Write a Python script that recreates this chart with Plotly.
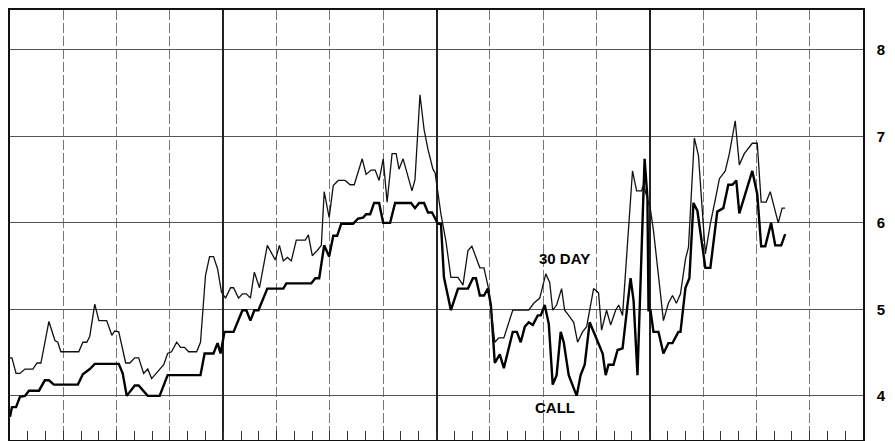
import plotly.graph_objects as go

# months from the start of the chart (4 years, 48 months)
day30_month = [0, 0.11, 0.34, 0.56, 0.84, 1.29, 1.52, 1.74, 2.19, 2.53, 2.69, 2.86, 3.87, 4.10, 4.32, 4.49,
               4.77, 5.00, 5.44, 5.73, 5.89, 6.12, 6.51, 6.74, 7.02, 7.24, 7.52, 7.75, 7.97, 8.65, 8.87, 9.09,
               9.38, 9.60, 9.82, 10.05, 10.50, 10.72, 11.00, 11.23, 11.45, 11.68, 11.90, 12.13, 12.41, 12.58,
               12.86, 13.08, 13.30, 13.53, 13.75, 14.04, 14.48, 14.65, 14.93, 15.16, 15.38, 15.61, 15.83, 16.11,
               16.62, 16.79, 17.01, 17.29, 17.52, 17.68, 17.96, 18.19, 18.47, 18.86, 19.14, 19.37, 19.82, 20.04,
               20.32, 20.55, 20.77, 21.00, 21.22, 21.50, 21.73, 21.89, 22.12, 22.62, 22.79, 23.07, 23.30, 23.52,
               23.80, 23.92, 24.25, 24.53, 24.81, 25.21, 25.49, 25.77, 25.99, 26.44, 26.67, 26.95, 27.28, 27.51,
               27.79, 28.29, 29.19, 29.47, 29.81, 30.15, 30.37, 30.54, 30.76, 31.04, 31.21, 31.44, 31.72, 31.94,
               32.22, 32.45, 32.84, 33.12, 33.29, 33.57, 33.80, 34.08, 34.25, 34.47, 35.03, 35.26, 35.54, 35.65,
               36.04, 36.21, 36.77, 37.05, 37.28, 37.50, 37.73, 38.01, 38.18, 38.51, 38.74, 39.13, 39.41, 39.69,
               39.92, 40.25, 40.48, 40.81, 41.04, 41.32, 41.77, 42.05, 42.27, 42.55, 42.78, 43.23, 43.45, 43.62]
day30_rate = [4.44, 4.44, 4.26, 4.26, 4.31, 4.31, 4.38, 4.38, 4.86, 4.64, 4.62, 4.51, 4.51, 4.62, 4.62, 4.69,
              5.06, 4.87, 4.87, 4.70, 4.75, 4.74, 4.38, 4.38, 4.44, 4.44, 4.26, 4.31, 4.20, 4.36, 4.49, 4.51,
              4.62, 4.56, 4.56, 4.51, 4.51, 4.62, 5.39, 5.61, 5.61, 5.47, 5.20, 5.13, 5.25, 5.25,
              5.13, 5.18, 5.18, 5.13, 5.43, 5.25, 5.74, 5.68, 5.57, 5.74, 5.56, 5.60, 5.56, 5.80,
              5.80, 5.86, 5.62, 5.68, 5.74, 6.36, 6.06, 6.43, 6.49, 6.49, 6.44, 6.44, 6.74, 6.56,
              6.61, 6.61, 6.49, 6.74, 6.24, 6.80, 6.80, 6.62, 6.74, 6.37, 6.50, 7.48, 7.08, 6.85,
              6.62, 6.58, 6.10, 5.79, 5.37, 5.37, 5.28, 5.68, 5.73, 5.48, 5.48, 5.22, 4.62, 4.67,
              4.67, 4.99, 4.99, 5.07, 5.13, 5.41, 5.31, 4.99, 5.05, 5.24, 4.99, 4.93, 4.85, 4.62,
              4.74, 4.80, 5.24, 5.19, 4.76, 4.99, 4.82, 4.99, 5.05, 4.93, 6.60, 6.37, 6.37, 6.44,
              6.15, 5.91, 4.87, 5.07, 5.16, 5.07, 5.18, 5.58, 5.72, 6.98, 6.78, 5.64, 5.99, 6.27,
              6.51, 6.60, 6.80, 7.18, 6.67, 6.80, 6.92, 6.92, 6.24, 6.24, 6.36, 6.00, 6.17, 6.17]

call_month = [0, 0.11, 0.34, 0.56, 0.84, 1.07, 1.63, 1.96, 2.19, 2.47, 3.82, 4.10, 4.49, 4.77, 6.12, 6.34,
              6.57, 7.02, 7.24, 7.75, 8.42, 8.87, 10.72, 10.95, 11.45, 11.68, 11.85, 12.07, 12.58, 13.08,
              13.30, 13.53, 13.75, 13.98, 14.48, 15.38, 15.55, 16.95, 17.18, 17.40, 17.68, 17.96, 18.19,
              18.41, 18.64, 19.31, 19.59, 19.87, 20.04, 20.27, 20.49, 20.77, 21.00, 21.39, 21.67, 22.57,
              22.79, 23.02, 23.30, 23.52, 23.75, 24.08, 24.25, 24.42, 24.81, 25.21, 25.77, 26.05, 26.22,
              26.44, 26.67, 26.89, 27.06, 27.28, 27.56, 27.79, 28.29, 28.52, 28.74, 28.97, 29.19, 29.42,
              29.70, 29.87, 30.09, 30.32, 30.54, 30.76, 30.99, 31.16, 31.44, 31.89, 32.11, 32.34, 32.62,
              32.84, 33.12, 33.35, 33.52, 33.68, 33.96, 34.19, 34.47, 34.92, 35.09, 35.31, 35.71, 35.87,
              35.93, 36.04, 36.21, 36.49, 36.77, 37.05, 37.28, 37.61, 37.73, 38.01, 38.23, 38.46, 38.68,
              38.96, 39.13, 39.41, 39.80, 40.14, 40.42, 40.65, 40.87, 41.04, 41.66, 41.77, 42.05, 42.27,
              42.50, 42.83, 43.06, 43.40, 43.62]
call_rate = [3.76, 3.87, 3.87, 3.99, 4.00, 4.06, 4.06, 4.18, 4.18, 4.13, 4.13, 4.25, 4.31, 4.37, 4.37, 4.26,
             4.00, 4.12, 4.12, 4.00, 4.00, 4.24, 4.24, 4.49, 4.49, 4.61, 4.49, 4.74, 4.74, 4.99,
             4.99, 4.87, 4.99, 4.99, 5.24, 5.24, 5.30, 5.30, 5.36, 5.36, 5.74, 5.61, 5.85,
             5.85, 5.99, 5.99, 6.05, 6.06, 6.10, 6.10, 6.23, 6.23, 6.00, 6.00, 6.23, 6.23,
             6.17, 6.23, 6.23, 6.12, 6.12, 5.99, 5.99, 5.37, 4.99, 5.24, 5.24, 5.36, 5.36,
             5.16, 5.16, 5.24, 5.05, 4.38, 4.48, 4.32, 4.74, 4.74, 4.62, 4.80, 4.85, 4.82,
             4.93, 4.93, 5.05, 4.83, 4.13, 4.24, 4.74, 4.62, 4.24, 4.00, 4.24, 4.36, 4.85,
             4.74, 4.61, 4.49, 4.24, 4.36, 4.36, 4.53, 4.55, 5.36, 5.10, 4.24, 6.74, 6.29,
             4.99, 4.99, 4.74, 4.74, 4.49, 4.61, 4.61, 4.74, 4.74, 5.25, 5.36, 6.23, 6.14,
             5.72, 5.48, 5.48, 6.13, 6.17, 6.44, 6.44, 6.49, 6.11, 6.55, 6.60, 6.33, 5.73,
             5.73, 6.00, 5.74, 5.74, 5.87]

y_ticks = [4, 5, 6, 7, 8]
y_tick_labels = ["4", "5", "6", "7", "8"]
label_30day = "30 DAY"
label_call = "CALL"
label_30day_pos = (31.2, 5.59)
label_call_pos = (30.65, 3.87)

fig = go.Figure()
fig.add_trace(go.Scatter(x=day30_month, y=day30_rate, mode="lines", xaxis="x2",
                         line=dict(color="#111", width=1.3), hoverinfo="skip", showlegend=False))
fig.add_trace(go.Scatter(x=call_month, y=call_rate, mode="lines",
                         line=dict(color="#000", width=2.4), hoverinfo="skip", showlegend=False))

lab_font = dict(family="Liberation Sans, Arial, sans-serif", size=15, color="#000", weight="bold")
fig.add_annotation(x=label_30day_pos[0], y=label_30day_pos[1], text=label_30day, showarrow=False,
                   font=lab_font, xref="x", yref="y")
fig.add_annotation(x=label_call_pos[0], y=label_call_pos[1], text=label_call, showarrow=False,
                   font=lab_font, xref="x", yref="y")

# the page body adds an 8px offset; the figure is sized to the remaining window area
fig.update_layout(
    width=887, height=433,
    margin=dict(l=0, r=32, t=0, b=1),
    paper_bgcolor="white", plot_bgcolor="white",
    xaxis=dict(range=[0, 48], tick0=0, dtick=3, showgrid=True, gridcolor="#777", gridwidth=1,
               griddash="10px,3px",
               ticks="inside", ticklen=9, tickcolor="#333", tickwidth=1,
               minor=dict(dtick=1, ticks="inside", ticklen=9, tickcolor="#333", tickwidth=1, showgrid=False),
               showticklabels=False, zeroline=False, showline=True, mirror=True,
               linecolor="#111", linewidth=1.5, fixedrange=True),
    xaxis2=dict(range=[0, 48], overlaying="x", tick0=0, dtick=12, showgrid=True, gridcolor="#222",
                gridwidth=1.6, showticklabels=False, ticks="", zeroline=False, showline=False,
                fixedrange=True),
    yaxis=dict(range=[3.49, 8.46], side="right", tickvals=y_ticks, ticktext=y_tick_labels,
               showgrid=True, gridcolor="#555", gridwidth=1, zeroline=False, ticks="",
               showline=True, mirror=True, linecolor="#111", linewidth=1.5,
               ticklabelstandoff=9,
               tickfont=dict(family="Liberation Sans Narrow, Liberation Sans, sans-serif", size=15,
                             color="#000", weight="bold"), fixedrange=True),
)

fig.write_html("out.html")
